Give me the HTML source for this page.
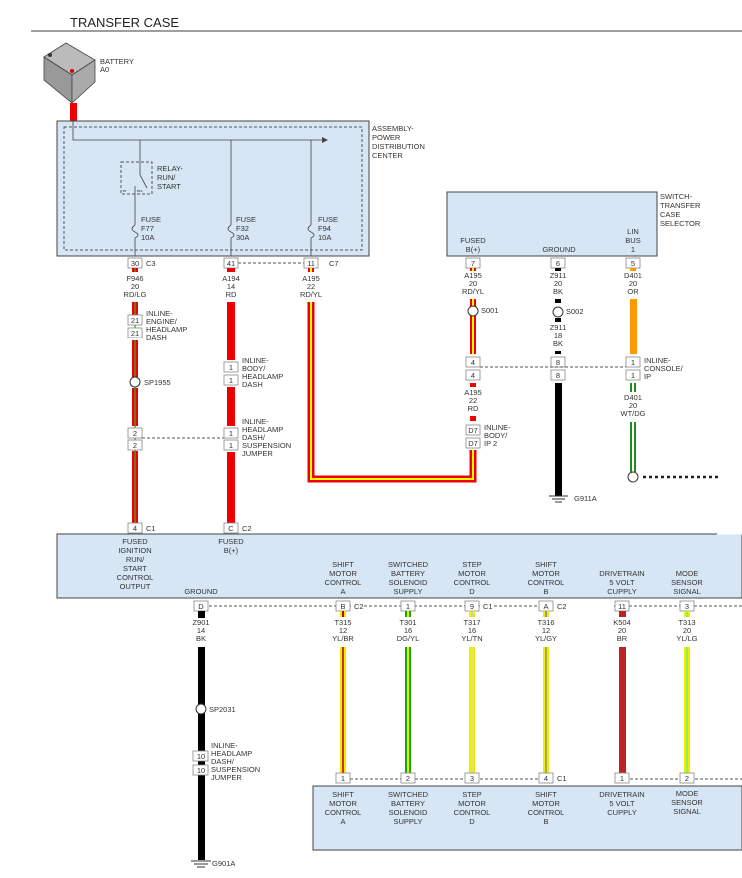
<!DOCTYPE html>
<html><head><meta charset="utf-8"><style>
html,body{margin:0;padding:0;background:#fff;}
svg{display:block;font-family:"Liberation Sans",sans-serif;}
.t{font-size:7.5px;fill:#333;}
.c{font-size:7.5px;fill:#333;text-anchor:middle;}
.p{font-size:7.5px;fill:#333;text-anchor:middle;}
.cb{fill:#fff;stroke:#888;stroke-width:0.8;}
.dash{stroke:#555;stroke-width:1;stroke-dasharray:3,2;fill:none;}
</style></head><body>
<svg width="742" height="878" viewBox="0 0 742 878" xmlns="http://www.w3.org/2000/svg">
<text x="70" y="27" style="font-size:13px;fill:#222">TRANSFER CASE</text>
<line x1="31" y1="31" x2="742" y2="31" stroke="#666" stroke-width="1.2"/>

<!-- battery -->
<polygon points="44,57 66,43 95,60 72,75" fill="#bbb" stroke="#444" stroke-width="0.8"/>
<polygon points="44,57 72,75 72,103 44,80" fill="#999" stroke="#444" stroke-width="0.8"/>
<polygon points="72,75 95,60 95,82 72,103" fill="#aaa" stroke="#444" stroke-width="0.8"/>
<circle cx="72" cy="71" r="2" fill="#c00"/>
<circle cx="50" cy="55" r="2" fill="#333"/>
<text x="100" y="64" class="t">BATTERY</text><text x="100" y="72" class="t">A0</text>
<rect x="70" y="103" width="7" height="18" fill="#e00"/>

<!-- PDC -->
<rect x="57" y="121" width="312" height="135" fill="#d6e6f4" stroke="#444" stroke-width="1"/>
<rect x="64" y="127" width="298" height="123" class="dash" stroke="#777"/>
<polyline points="73,121 73,140 322,140" fill="none" stroke="#444" stroke-width="0.8"/>
<polygon points="322,137 328,140 322,143" fill="#444"/>
<line x1="140" y1="140" x2="140" y2="175" stroke="#444" stroke-width="0.8"/>
<line x1="140" y1="175" x2="147" y2="188" stroke="#444" stroke-width="0.8"/>
<rect x="121" y="162" width="31" height="32" class="dash" stroke="#777"/>
<text x="123" y="192" style="font-size:3px">87</text><text x="137" y="192" style="font-size:3px">87A</text>
<text x="157" y="171" class="t">RELAY-</text><text x="157" y="180" class="t">RUN/</text><text x="157" y="189" class="t">START</text>
<line x1="135" y1="186" x2="135" y2="225" stroke="#444" stroke-width="0.8"/>
<line x1="231" y1="140" x2="231" y2="225" stroke="#444" stroke-width="0.8"/>
<line x1="311" y1="140" x2="311" y2="225" stroke="#444" stroke-width="0.8"/>
<g fill="none" stroke="#444" stroke-width="0.8">
<path d="M135,225 c-4,3 -4,5 0,7 c4,2 4,4 0,6 L135,256"/>
<path d="M231,225 c-4,3 -4,5 0,7 c4,2 4,4 0,6 L231,256"/>
<path d="M311,225 c-4,3 -4,5 0,7 c4,2 4,4 0,6 L311,256"/>
</g>
<text x="141" y="222" class="t">FUSE</text><text x="141" y="231" class="t">F77</text><text x="141" y="240" class="t">10A</text>
<text x="236" y="222" class="t">FUSE</text><text x="236" y="231" class="t">F32</text><text x="236" y="240" class="t">30A</text>
<text x="318" y="222" class="t">FUSE</text><text x="318" y="231" class="t">F94</text><text x="318" y="240" class="t">10A</text>
<text x="372" y="131" class="t">ASSEMBLY-</text><text x="372" y="140" class="t">POWER</text><text x="372" y="149" class="t">DISTRIBUTION</text><text x="372" y="158" class="t">CENTER</text>

<!-- PDC connectors -->
<line x1="238" y1="263" x2="304" y2="263" class="dash"/>
<rect x="128" y="258" width="14" height="10" class="cb"/><text x="135" y="266" class="p">30</text><text x="146" y="266" class="t">C3</text>
<rect x="224" y="258" width="14" height="10" class="cb"/><text x="231" y="266" class="p">41</text>
<rect x="304" y="258" width="14" height="10" class="cb"/><text x="311" y="266" class="p">11</text><text x="329" y="266" class="t">C7</text>
<rect x="132" y="268" width="6" height="4" fill="#e00"/><rect x="134.5" y="268" width="1.2" height="4" fill="#3a3"/>
<rect x="227" y="268" width="8" height="4" fill="#e00"/>
<rect x="308" y="268" width="6" height="4" fill="#e00"/><rect x="310" y="268" width="2" height="4" fill="#ff0"/>
<text x="135" y="281" class="c">F946</text><text x="135" y="289" class="c">20</text><text x="135" y="297" class="c">RD/LG</text>
<text x="231" y="281" class="c">A194</text><text x="231" y="289" class="c">14</text><text x="231" y="297" class="c">RD</text>
<text x="311" y="281" class="c">A195</text><text x="311" y="289" class="c">22</text><text x="311" y="297" class="c">RD/YL</text>

<!-- wire F946 -->
<g>
<rect x="132" y="302" width="6" height="13" fill="#e00"/><rect x="132" y="340" width="6" height="37" fill="#e00"/>
<rect x="132" y="388" width="6" height="38" fill="#e00"/><rect x="132" y="451" width="6" height="72" fill="#e00"/>
<rect x="134.4" y="302" width="1.3" height="221" fill="#3a3"/>
</g>
<rect x="128" y="315" width="14" height="10" class="cb"/><text x="135" y="323" class="p">21</text>
<rect x="128" y="328" width="14" height="10" class="cb"/><text x="135" y="336" class="p">21</text>
<rect x="128" y="338" width="14" height="2" fill="#fff"/>
<text x="146" y="316" class="t">INLINE-</text><text x="146" y="324" class="t">ENGINE/</text><text x="146" y="332" class="t">HEADLAMP</text><text x="146" y="340" class="t">DASH</text>
<circle cx="135" cy="382" r="5" fill="#fff" stroke="#333" stroke-width="1"/>
<text x="144" y="385" class="t">SP1955</text>
<rect x="128" y="428" width="14" height="10" class="cb"/><text x="135" y="436" class="p">2</text>
<rect x="128" y="440" width="14" height="10" class="cb"/><text x="135" y="448" class="p">2</text>
<line x1="142" y1="438" x2="224" y2="438" class="dash"/>

<!-- wire A194 -->
<rect x="227" y="302" width="8" height="58" fill="#e00"/>
<rect x="227" y="387" width="8" height="39" fill="#e00"/>
<rect x="227" y="452" width="8" height="71" fill="#e00"/>
<rect x="224" y="362" width="14" height="10" class="cb"/><text x="231" y="370" class="p">1</text>
<rect x="224" y="375" width="14" height="10" class="cb"/><text x="231" y="383" class="p">1</text>
<text x="242" y="363" class="t">INLINE-</text><text x="242" y="371" class="t">BODY/</text><text x="242" y="379" class="t">HEADLAMP</text><text x="242" y="387" class="t">DASH</text>
<rect x="224" y="428" width="14" height="10" class="cb"/><text x="231" y="436" class="p">1</text>
<rect x="224" y="440" width="14" height="10" class="cb"/><text x="231" y="448" class="p">1</text>
<text x="242" y="424" class="t">INLINE-</text><text x="242" y="432" class="t">HEADLAMP</text><text x="242" y="440" class="t">DASH/</text><text x="242" y="448" class="t">SUSPENSION</text><text x="242" y="456" class="t">JUMPER</text>

<!-- A195 wire -->
<polyline points="311,302 311,479 473,479 473,450" fill="none" stroke="#e00" stroke-width="7"/>
<polyline points="311,302 311,479 473,479 473,450" fill="none" stroke="#ff0" stroke-width="2"/>

<rect x="128" y="523" width="14" height="10" class="cb"/><text x="135" y="531" class="p">4</text><text x="146" y="531" class="t">C1</text>
<rect x="224" y="523" width="14" height="10" class="cb"/><text x="231" y="531" class="p">C</text><text x="242" y="531" class="t">C2</text>

<!-- switch -->
<rect x="447" y="192" width="210" height="64" fill="#d6e6f4" stroke="#444" stroke-width="1"/>
<text x="660" y="199" class="t">SWITCH-</text><text x="660" y="208" class="t">TRANSFER</text><text x="660" y="217" class="t">CASE</text><text x="660" y="226" class="t">SELECTOR</text>
<text x="473" y="243" class="c">FUSED</text><text x="473" y="252" class="c">B(+)</text>
<text x="559" y="252" class="c">GROUND</text>
<text x="633" y="234" class="c">LIN</text><text x="633" y="243" class="c">BUS</text><text x="633" y="252" class="c">1</text>
<rect x="466" y="258" width="14" height="10" class="cb"/><text x="473" y="266" class="p">7</text>
<rect x="551" y="258" width="14" height="10" class="cb"/><text x="558" y="266" class="p">6</text>
<rect x="626" y="258" width="14" height="10" class="cb"/><text x="633" y="266" class="p">5</text>
<rect x="470" y="268" width="6" height="3" fill="#e00"/><rect x="472" y="268" width="2" height="3" fill="#ff0"/>
<rect x="555" y="268" width="6" height="3" fill="#000"/>
<rect x="630" y="268" width="6" height="3" fill="#f90"/>
<text x="473" y="278" class="c">A195</text><text x="473" y="286" class="c">20</text><text x="473" y="294" class="c">RD/YL</text>
<text x="558" y="278" class="c">Z911</text><text x="558" y="286" class="c">20</text><text x="558" y="294" class="c">BK</text>
<text x="633" y="278" class="c">D401</text><text x="633" y="286" class="c">20</text><text x="633" y="294" class="c">OR</text>
<rect x="470" y="299" width="6" height="55" fill="#e00"/><rect x="472" y="299" width="2" height="55" fill="#ff0"/>
<circle cx="473" cy="311" r="5" fill="#fff" stroke="#333"/><text x="481" y="313" class="t">S001</text>
<rect x="466" y="357" width="14" height="10" class="cb"/><text x="473" y="365" class="p">4</text>
<rect x="466" y="370" width="14" height="10" class="cb"/><text x="473" y="378" class="p">4</text>
<rect x="470" y="383" width="6" height="4" fill="#e00"/>
<text x="473" y="395" class="c">A195</text><text x="473" y="403" class="c">22</text><text x="473" y="411" class="c">RD</text>
<rect x="470" y="416" width="6" height="5" fill="#e00"/>
<rect x="466" y="425" width="14" height="10" class="cb"/><text x="473" y="433" class="p">D7</text>
<rect x="466" y="438" width="14" height="10" class="cb"/><text x="473" y="446" class="p">D7</text>
<text x="484" y="430" class="t">INLINE-</text><text x="484" y="438" class="t">BODY/</text><text x="484" y="446" class="t">IP 2</text>
<rect x="555" y="299" width="6" height="4" fill="#000"/>
<circle cx="558" cy="312" r="5" fill="#fff" stroke="#333"/><text x="566" y="314" class="t">S002</text>
<rect x="555" y="318" width="6" height="4" fill="#000"/>
<text x="558" y="330" class="c">Z911</text><text x="558" y="338" class="c">18</text><text x="558" y="346" class="c">BK</text>
<rect x="555" y="351" width="6" height="3" fill="#000"/>
<rect x="551" y="357" width="14" height="10" class="cb"/><text x="558" y="365" class="p">8</text>
<rect x="551" y="370" width="14" height="10" class="cb"/><text x="558" y="378" class="p">8</text>
<rect x="555" y="383" width="7" height="113" fill="#000"/>
<line x1="549" y1="496" x2="568" y2="496" stroke="#333"/><line x1="552" y1="499" x2="565" y2="499" stroke="#333"/><line x1="555" y1="502" x2="562" y2="502" stroke="#333"/>
<text x="574" y="501" class="t">G911A</text>
<rect x="630" y="299" width="7" height="55" fill="#f90"/>
<rect x="626" y="357" width="14" height="10" class="cb"/><text x="633" y="365" class="p">1</text>
<rect x="626" y="370" width="14" height="10" class="cb"/><text x="633" y="378" class="p">1</text>
<text x="644" y="363" class="t">INLINE-</text><text x="644" y="371" class="t">CONSOLE/</text><text x="644" y="379" class="t">IP</text>
<rect x="630" y="383" width="6" height="9" fill="#282"/><rect x="632" y="383" width="2" height="9" fill="#fff"/>
<text x="633" y="400" class="c">D401</text><text x="633" y="408" class="c">20</text><text x="633" y="416" class="c">WT/DG</text>
<rect x="630" y="422" width="6" height="50" fill="#282"/><rect x="632" y="422" width="2" height="50" fill="#fff"/>
<circle cx="633" cy="477" r="5" fill="#fff" stroke="#333"/>
<line x1="643" y1="477" x2="720" y2="477" stroke="#222" stroke-width="2.5" stroke-dasharray="3,3"/>
<line x1="480" y1="367" x2="626" y2="367" class="dash"/>

<!-- bottom module -->
<rect x="57" y="534" width="685" height="64" fill="#d6e6f4" stroke="#444" stroke-width="1"/>
<line x1="717" y1="534" x2="742" y2="534" stroke="#fff"/>
<text x="135" y="544" class="c">FUSED</text><text x="135" y="553" class="c">IGNITION</text><text x="135" y="562" class="c">RUN/</text><text x="135" y="571" class="c">START</text><text x="135" y="580" class="c">CONTROL</text><text x="135" y="589" class="c">OUTPUT</text>
<text x="231" y="544" class="c">FUSED</text><text x="231" y="553" class="c">B(+)</text>
<text x="201" y="594" class="c">GROUND</text>
<text x="343" y="567" class="c">SHIFT</text><text x="343" y="576" class="c">MOTOR</text><text x="343" y="585" class="c">CONTROL</text><text x="343" y="594" class="c">A</text>
<text x="408" y="567" class="c">SWITCHED</text><text x="408" y="576" class="c">BATTERY</text><text x="408" y="585" class="c">SOLENOID</text><text x="408" y="594" class="c">SUPPLY</text>
<text x="472" y="567" class="c">STEP</text><text x="472" y="576" class="c">MOTOR</text><text x="472" y="585" class="c">CONTROL</text><text x="472" y="594" class="c">D</text>
<text x="546" y="567" class="c">SHIFT</text><text x="546" y="576" class="c">MOTOR</text><text x="546" y="585" class="c">CONTROL</text><text x="546" y="594" class="c">B</text>
<text x="622" y="576" class="c">DRIVETRAIN</text><text x="622" y="585" class="c">5 VOLT</text><text x="622" y="594" class="c">CUPPLY</text>
<text x="687" y="576" class="c">MODE</text><text x="687" y="585" class="c">SENSOR</text><text x="687" y="594" class="c">SIGNAL</text>
<line x1="209" y1="606" x2="742" y2="606" class="dash"/>
<rect x="351" y="601" width="13" height="10" fill="#fff"/><rect x="480" y="601" width="14" height="10" fill="#fff"/>
<rect x="553" y="601" width="61" height="10" fill="#fff"/>
<rect x="194" y="601" width="14" height="10" class="cb"/><text x="201" y="609" class="p">D</text>
<rect x="336" y="601" width="14" height="10" class="cb"/><text x="343" y="609" class="p">B</text><text x="354" y="609" class="t">C2</text>
<rect x="401" y="601" width="14" height="10" class="cb"/><text x="408" y="609" class="p">1</text>
<rect x="465" y="601" width="14" height="10" class="cb"/><text x="472" y="609" class="p">9</text><text x="483" y="609" class="t">C1</text>
<rect x="539" y="601" width="14" height="10" class="cb"/><text x="546" y="609" class="p">A</text><text x="557" y="609" class="t">C2</text>
<rect x="615" y="601" width="14" height="10" class="cb"/><text x="622" y="609" class="p">11</text>
<rect x="680" y="601" width="14" height="10" class="cb"/><text x="687" y="609" class="p">3</text>

<g>
<rect x="198" y="611" width="7" height="7" fill="#000"/>
<rect x="340" y="611" width="6" height="6" fill="#ee0"/><rect x="342" y="611" width="2" height="6" fill="#c00"/>
<rect x="405" y="611" width="6" height="6" fill="#1a1"/><rect x="407" y="611" width="2" height="6" fill="#ee0"/>
<rect x="469" y="611" width="6" height="6" fill="#ee0"/><rect x="471" y="611" width="2" height="6" fill="#ccb"/>
<rect x="543" y="611" width="6" height="6" fill="#ee0"/><rect x="545" y="611" width="2" height="6" fill="#999"/>
<rect x="619" y="611" width="7" height="6" fill="#b22"/>
<rect x="684" y="611" width="6" height="6" fill="#ee0"/><rect x="686" y="611" width="2" height="6" fill="#9e5"/>
</g>
<text x="201" y="625" class="c">Z901</text><text x="201" y="633" class="c">14</text><text x="201" y="641" class="c">BK</text>
<text x="343" y="625" class="c">T315</text><text x="343" y="633" class="c">12</text><text x="343" y="641" class="c">YL/BR</text>
<text x="408" y="625" class="c">T301</text><text x="408" y="633" class="c">16</text><text x="408" y="641" class="c">DG/YL</text>
<text x="472" y="625" class="c">T317</text><text x="472" y="633" class="c">16</text><text x="472" y="641" class="c">YL/TN</text>
<text x="546" y="625" class="c">T316</text><text x="546" y="633" class="c">12</text><text x="546" y="641" class="c">YL/GY</text>
<text x="622" y="625" class="c">K504</text><text x="622" y="633" class="c">20</text><text x="622" y="641" class="c">BR</text>
<text x="687" y="625" class="c">T313</text><text x="687" y="633" class="c">20</text><text x="687" y="641" class="c">YL/LG</text>

<g>
<rect x="340" y="647" width="6" height="126" fill="#ee0"/><rect x="342.2" y="647" width="1.6" height="126" fill="#c00"/>
<rect x="405" y="647" width="6" height="126" fill="#1a1"/><rect x="407" y="647" width="2" height="126" fill="#ee0"/>
<rect x="469" y="647" width="6" height="126" fill="#ee0"/><rect x="471.3" y="647" width="1.4" height="126" fill="#dd9"/>
<rect x="543" y="647" width="6" height="126" fill="#ee0"/><rect x="545.3" y="647" width="1.4" height="126" fill="#888"/>
<rect x="619" y="647" width="7" height="126" fill="#b22"/>
<rect x="684" y="647" width="6" height="126" fill="#ee0"/><rect x="686" y="647" width="2" height="126" fill="#9e5"/>
</g>

<rect x="198" y="647" width="7" height="213" fill="#000"/>
<circle cx="201" cy="709" r="5" fill="#fff" stroke="#333"/><text x="209" y="712" class="t">SP2031</text>
<rect x="193" y="751" width="15" height="10" class="cb"/><text x="201" y="759" class="p">10</text>
<rect x="193" y="765" width="15" height="10" class="cb"/><text x="201" y="773" class="p">10</text>
<text x="211" y="748" class="t">INLINE-</text><text x="211" y="756" class="t">HEADLAMP</text><text x="211" y="764" class="t">DASH/</text><text x="211" y="772" class="t">SUSPENSION</text><text x="211" y="780" class="t">JUMPER</text>
<line x1="191" y1="861" x2="211" y2="861" stroke="#333"/><line x1="194" y1="864" x2="208" y2="864" stroke="#333"/><line x1="197" y1="867" x2="205" y2="867" stroke="#333"/>
<text x="212" y="866" class="t">G901A</text>

<line x1="350" y1="779" x2="742" y2="779" class="dash"/>
<rect x="553" y="774" width="61" height="10" fill="#fff"/>
<rect x="336" y="773" width="14" height="10" class="cb"/><text x="343" y="781" class="p">1</text>
<rect x="401" y="773" width="14" height="10" class="cb"/><text x="408" y="781" class="p">2</text>
<rect x="465" y="773" width="14" height="10" class="cb"/><text x="472" y="781" class="p">3</text>
<rect x="539" y="773" width="14" height="10" class="cb"/><text x="546" y="781" class="p">4</text><text x="557" y="781" class="t">C1</text>
<rect x="615" y="773" width="14" height="10" class="cb"/><text x="622" y="781" class="p">1</text>
<rect x="680" y="773" width="14" height="10" class="cb"/><text x="687" y="781" class="p">2</text>
<rect x="313" y="786" width="429" height="64" fill="#d6e6f4" stroke="#444" stroke-width="1"/>
<text x="343" y="797" class="c">SHIFT</text><text x="343" y="806" class="c">MOTOR</text><text x="343" y="815" class="c">CONTROL</text><text x="343" y="824" class="c">A</text>
<text x="408" y="797" class="c">SWITCHED</text><text x="408" y="806" class="c">BATTERY</text><text x="408" y="815" class="c">SOLENOID</text><text x="408" y="824" class="c">SUPPLY</text>
<text x="472" y="797" class="c">STEP</text><text x="472" y="806" class="c">MOTOR</text><text x="472" y="815" class="c">CONTROL</text><text x="472" y="824" class="c">D</text>
<text x="546" y="797" class="c">SHIFT</text><text x="546" y="806" class="c">MOTOR</text><text x="546" y="815" class="c">CONTROL</text><text x="546" y="824" class="c">B</text>
<text x="622" y="797" class="c">DRIVETRAIN</text><text x="622" y="806" class="c">5 VOLT</text><text x="622" y="815" class="c">CUPPLY</text>
<text x="687" y="796" class="c">MODE</text><text x="687" y="805" class="c">SENSOR</text><text x="687" y="814" class="c">SIGNAL</text>
</svg>
</body></html>
